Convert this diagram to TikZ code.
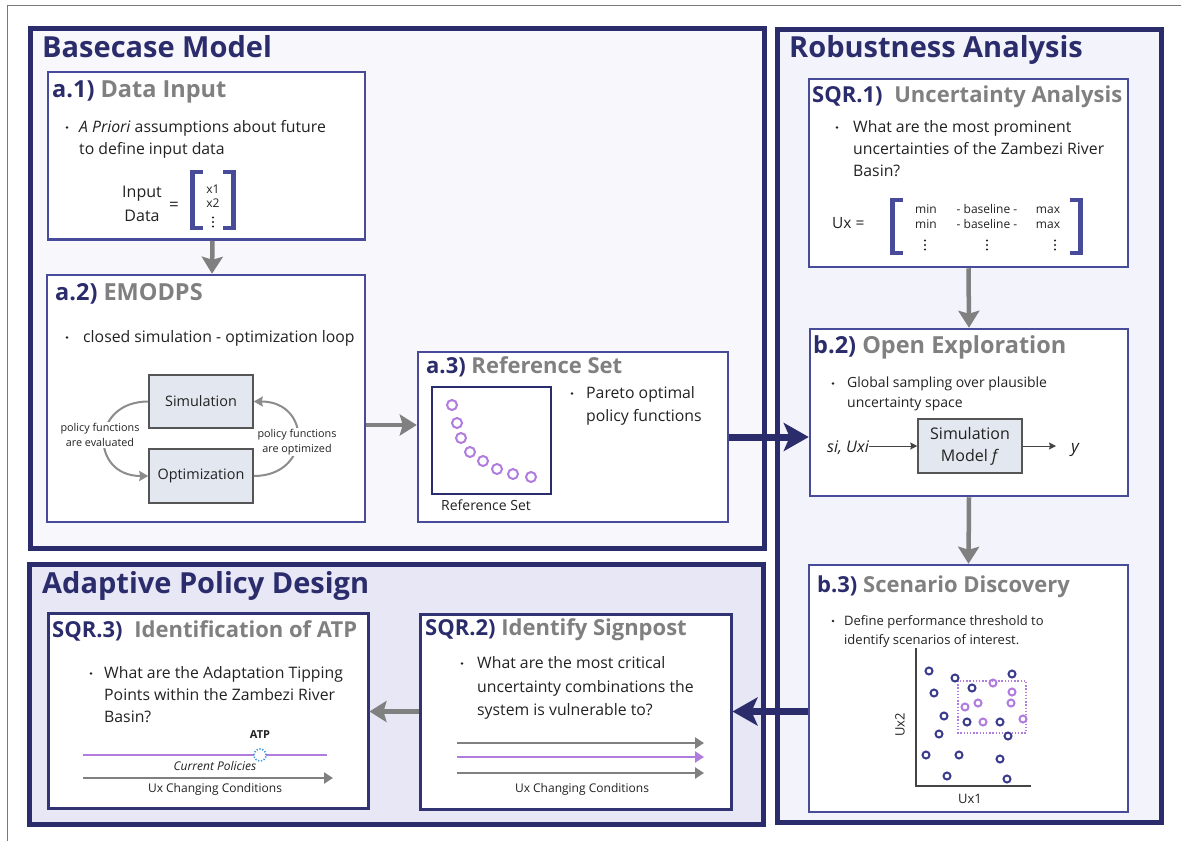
\documentclass[tikz,border=0pt]{standalone}
\usepackage{fontspec}
\setmainfont{Open Sans}
\usetikzlibrary{arrows.meta,fit}

\newcommand{\setfs}[1]{\fontsize{#1}{#1}\selectfont}
\newcommand{\setfsl}[2]{\fontsize{#1}{#2}\selectfont}

\definecolor{panelnavy}{RGB}{43,44,107}
\definecolor{cardblue}{RGB}{72,74,154}
\definecolor{carddark}{RGB}{50,51,115}
\definecolor{titlegray}{RGB}{128,128,128}
\definecolor{bodyblack}{RGB}{34,34,34}
\definecolor{basefill}{RGB}{247,247,252}
\definecolor{robfill}{RGB}{243,243,251}
\definecolor{adaptfill}{RGB}{231,231,246}
\definecolor{arrowgray}{RGB}{128,128,128}
\definecolor{loopgray}{RGB}{140,140,140}
\definecolor{procfill}{RGB}{227,231,239}
\definecolor{procedge}{RGB}{85,85,85}
\definecolor{dotpurple}{RGB}{176,124,222}
\definecolor{dotnavy}{RGB}{58,59,140}
\definecolor{atpblue}{RGB}{60,150,225}
\definecolor{framegray}{RGB}{120,120,120}
\definecolor{axisgray}{RGB}{68,68,68}

\begin{document}
\begin{tikzpicture}[x=1pt,y=-1pt,
  panel/.style={draw=panelnavy,line width=5pt,inner sep=0pt},
  card/.style={draw=cardblue,line width=2.5pt,fill=white,inner sep=0pt},
  darkcard/.style={card,draw=carddark,line width=3pt},
  procbox/.style={draw=procedge,line width=1.5pt,fill=procfill,inner sep=0pt},
  ptitle/.style={anchor=base west,inner sep=0pt,font=\setfs{29}\bfseries,text=panelnavy},
  ctitle/.style={anchor=base west,inner sep=0pt,font=\setfs{23.5}\bfseries,text=titlegray},
  sctitle/.style={ctitle,font=\setfs{22}\bfseries},
  body/.style={anchor=base west,inner sep=0pt,font=\setfs{15.8},text=bodyblack},
  smallbody/.style={anchor=base west,inner sep=0pt,font=\setfs{14},text=bodyblack},
  tinybody/.style={anchor=base west,inner sep=0pt,font=\setfs{13},text=bodyblack},
  caption/.style={anchor=base,inner sep=0pt,font=\setfs{12},text=bodyblack},
  entry/.style={anchor=base,inner sep=0pt,font=\setfs{12},text=bodyblack},
  looplabel/.style={fill=white,align=center,inner sep=1pt,font=\setfsl{10.8}{15},text=bodyblack},
  proclabel/.style={inner sep=0pt,font=\setfs{14.4},text=bodyblack},
  flow/.style={draw=arrowgray,line width=4.5pt,-{Stealth[length=17pt,width=21pt,inset=3pt]}},
  bigflow/.style={draw=panelnavy,line width=7pt,-{Stealth[length=25pt,width=28pt,inset=6pt]}},
  loopflow/.style={draw=loopgray,line width=2pt,-{Stealth[length=9pt,width=10pt,inset=1pt]}},
  thinflow/.style={draw=axisgray,line width=1pt,-{Stealth[length=7pt,width=7pt,inset=1pt]}},
  condflow/.style={line width=2.5pt,-{Triangle[length=9pt,width=11pt]}},
  bracket/.style={draw=cardblue,line width=4.5pt,line join=miter,line cap=butt},
  bullet/.style={fill=bodyblack},
  navydot/.style={draw=dotnavy,line width=2pt},
  purpledot/.style={draw=dotpurple,line width=2pt},
]
\useasboundingbox (0,0) rectangle (1181,841);
\fill[white] (0,0) rectangle (1181,841);

% thin outer frame (top and left edges)
\draw[framegray,line width=1pt] (7,841) -- (7,5.5) -- (1181,5.5);

% ---------------- panels ----------------
\node[panel,fill=basefill,fit={(30,28.5) (764,548.5)}] (base) {};
\node[panel,fill=robfill,fit={(777.5,29) (1161,822)}] (rob) {};
\node[panel,fill=adaptfill,fit={(29,564) (763,824)}] (adapt) {};

\node[ptitle] (baseT) at (42,57) {Basecase Model};
\node[ptitle] (robT) at (789,57) {Robustness Analysis};
\node[ptitle] (adaptT) at (42,593) {Adaptive Policy Design};

% ---------------- cards ----------------
\node[card,fit={(48,72) (365,239.5)}] (a1) {};
\node[card,fit={(47,275) (365,522)}] (a2) {};
\node[card,fit={(418,352) (728,522)}] (a3) {};
\node[card,fit={(809,79) (1128,267)}] (s1) {};
\node[card,fit={(810,329) (1128,496)}] (b2) {};
\node[card,fit={(809,565) (1128,812)}] (b3) {};
\node[darkcard,fit={(420,614) (731,809)}] (s2) {};
\node[darkcard,fit={(48,613) (368,808)}] (s3) {};

% card titles
\node[ctitle] (a1T) at (52,97) {\textcolor{panelnavy}{a.1)} Data Input};
\node[ctitle] (a2T) at (55,300) {\textcolor{panelnavy}{a.2)} EMODPS};
\node[sctitle] (a3T) at (426,373) {\textcolor{panelnavy}{a.3)} Reference Set};
\node[sctitle] (s1T) at (812,102) {\textcolor{panelnavy}{SQR.1)}\hspace{6pt} Uncertainty Analysis};
\node[ctitle] (b2T) at (813,353) {\textcolor{panelnavy}{b.2)} Open Exploration};
\node[sctitle] (b3T) at (817,592) {\textcolor{panelnavy}{b.3)} Scenario Discovery};
\node[sctitle] (s2T) at (425,635) {\textcolor{panelnavy}{SQR.2)} Identify Signpost};
\node[sctitle] (s3T) at (52,637) {\textcolor{panelnavy}{SQR.3)}\hspace{6pt} Identification of ATP};

% ---------------- connectors ----------------
\draw[flow] ([xshift=6pt]a1.south) -- ([xshift=6pt]a2.north);
\draw[flow] (a2.east |- 0,425) -- (a3.west |- 0,425);
\draw[bigflow] (a3.east) -- (b2.west |- a3.east);
\draw[flow] (s1.south) -- (b2.north);
\draw[flow] (b2.south) -- (b3.north);
\draw[bigflow] (b3.west |- s2.east) -- (s2.east);
\draw[flow] (s2.west) -- (s3.east |- s2.west);

% ---------------- a.1 Data Input ----------------
\fill[bullet] (67,127.5) circle (1.4pt);
\node[body] (a1l1) at (79,132) {\textit{A Priori} assumptions about future};
\node[body] (a1l2) at (79,154) {to define input data};
\node[anchor=base,inner sep=0pt,font=\setfs{16},text=bodyblack] (inp1) at (142,197) {Input};
\node[anchor=base,inner sep=0pt,font=\setfs{16},text=bodyblack] (inp2) at (142,221) {Data};
\node[anchor=base,inner sep=0pt,font=\setfs{17},text=bodyblack] (inpeq) at (174,210) {=};
\draw[bracket] (203,172) -- (192.5,172) -- (192.5,228) -- (203,228);
\draw[bracket] (223,172) -- (233.5,172) -- (233.5,228) -- (223,228);
\node[entry] (x1) at (213,193) {x1};
\node[entry] (x2) at (213,207) {x2};
\foreach \yy in {217.5,222,226.5} \fill[bodyblack] (213,\yy) circle (1.1pt);

% ---------------- a.2 EMODPS ----------------
\fill[bullet] (67,337.5) circle (1.4pt);
\node[body] (a2l1) at (83,342) {closed simulation - optimization loop};
\node[procbox,fit={(149,375) (253,428)}] (sim) {};
\node[proclabel] (simT) at (sim.center) {Simulation};
\node[procbox,fit={(149,449) (253,503)}] (opt) {};
\node[proclabel] (optT) at (opt.center) {Optimization};
\draw[loopflow] (sim.west) .. controls (90,401.5) and (90,476) .. (opt.west);
\draw[loopflow] (opt.east) .. controls (312,476) and (312,401.5) .. (sim.east);
\node[looplabel] (evalT) at (100,435) {policy functions\\are evaluated};
\node[looplabel] (optimT) at (297,442) {policy functions\\are optimized};

% ---------------- a.3 Reference Set ----------------
\node[draw=panelnavy,line width=2pt,inner sep=0pt,fit={(432,387) (551,494)}] (refplot) {};
\foreach \p in {(452,405),(457,423),(461,438),(470,452),(483,461),(497,469),(513,474),(531,477)}
  \draw[draw=dotpurple,line width=2pt] \p circle (5pt);
\node[anchor=base,inner sep=0pt,font=\setfs{14},text=bodyblack] (refT) at (486,510) {Reference Set};
\fill[bullet] (572,393.5) circle (1.4pt);
\node[body] (a3l1) at (586,398) {Pareto optimal};
\node[body] (a3l2) at (586,421) {policy functions};

% ---------------- SQR.1 Uncertainty Analysis ----------------
\fill[bullet] (837,127.5) circle (1.4pt);
\node[body] (s1l1) at (853,132) {What are the most prominent};
\node[body] (s1l2) at (853,154) {uncertainties of the Zambezi River};
\node[body] (s1l3) at (853,176) {Basin?};
\node[anchor=base west,inner sep=0pt,font=\setfs{15.5},text=bodyblack] (uxT) at (832,228) {Ux =};
\draw[bracket] (903,200) -- (892.5,200) -- (892.5,253) -- (903,253);
\draw[bracket] (1070,200) -- (1080.5,200) -- (1080.5,253) -- (1070,253);
\node[entry] (m11) at (926,213) {min};
\node[entry] (m12) at (987,213) {- baseline -};
\node[entry] (m13) at (1048,213) {max};
\node[entry] (m21) at (926,228) {min};
\node[entry] (m22) at (987,228) {- baseline -};
\node[entry] (m23) at (1048,228) {max};
\foreach \xx in {925,987,1055}
  \foreach \yy in {240.5,245,249.5} \fill[bodyblack] (\xx,\yy) circle (1.1pt);

% ---------------- b.2 Open Exploration ----------------
\fill[bullet] (833,383.5) circle (1.3pt);
\node[smallbody] (b2l1) at (847,387) {Global sampling over plausible};
\node[smallbody] (b2l2) at (847,407) {uncertainty space};
\node[procbox,fit={(918,419) (1022,473)}] (sm) {};
\node[align=center,inner sep=0pt,font=\setfsl{16}{22},text=bodyblack] (smT) at (sm.center) {Simulation\\Model \textit{f}};
\node[anchor=base west,inner sep=0pt,font=\setfs{16}\itshape,text=bodyblack] (si) at (827,452) {si, Uxi};
\draw[thinflow] (si.east |- sm.west) -- (sm.west);
\coordinate (yend) at (1056,446);
\draw[thinflow] (sm.east) -- (yend);
\node[anchor=base west,inner sep=0pt,font=\setfs{17}\itshape,text=bodyblack] (yout) at (1071,452) {y};

% ---------------- b.3 Scenario Discovery ----------------
\fill[bullet] (833,621) circle (1.3pt);
\node[tinybody] (b3l1) at (844,625) {Define performance threshold to};
\node[tinybody] (b3l2) at (844,644) {identify scenarios of interest.};
\draw[axisgray,line width=1.5pt] (916,648) -- (916,786) -- (1031,786);
\node[inner sep=0pt,font=\setfs{13},text=bodyblack,rotate=90] (ux2) at (900,725) {Ux2};
\node[inner sep=0pt,font=\setfs{13},text=bodyblack] (ux1) at (970,799) {Ux1};
\draw[dotpurple,line width=1.6pt,dash pattern=on 1.4pt off 1.8pt] (958,681) rectangle (1026,733);
\foreach \p in {(929,671),(955,678),(1012,674),(934,693),(972,688),(944,716),(967,722),(1000,722),
                (939,734),(1008,736),(926,755),(959,755),(1000,759),(947,776),(1007,779)}
  \draw[navydot] \p circle (3.5pt);
\foreach \p in {(993,683),(1012,692),(978,703),(965,707),(1011,703),(983,722),(1023,719)}
  \draw[purpledot] \p circle (3.5pt);

% ---------------- SQR.2 Identify Signpost ----------------
\fill[bullet] (462,663.5) circle (1.4pt);
\node[body] (s2l1) at (477,668) {What are the most critical};
\node[body] (s2l2) at (477,692) {uncertainty combinations the};
\node[body] (s2l3) at (477,715) {system is vulnerable to?};
\draw[condflow,draw=arrowgray] (457,743) -- (704,743);
\draw[condflow,draw=dotpurple] (457,757) -- (704,757);
\draw[condflow,draw=arrowgray] (457,773) -- (704,773);
\node[caption] (s2cap) at (582,792) {Ux Changing Conditions};

% ---------------- SQR.3 Identification of ATP ----------------
\fill[bullet] (91,673.5) circle (1.4pt);
\node[body] (s3l1) at (104,678) {What are the Adaptation Tipping};
\node[body] (s3l2) at (104,700) {Points within the Zambezi River};
\node[body] (s3l3) at (104,722) {Basin?};
\node[anchor=base,inner sep=0pt,font=\setfs{11}\bfseries,text=bodyblack] (atpT) at (260,738) {ATP};
\draw[dotpurple,line width=2.5pt] (83,755) -- (327,755);
\draw[atpblue,fill=white,line width=1.6pt,dash pattern=on 1.3pt off 1.6pt] (260,755) circle (6pt);
\node[anchor=base,inner sep=0pt,font=\setfs{12}\itshape,text=bodyblack] (curT) at (215,770) {Current Policies};
\draw[condflow,draw=arrowgray] (83,778) -- (333,778);
\node[caption] (s3cap) at (215,792) {Ux Changing Conditions};

\end{tikzpicture}
\end{document}
